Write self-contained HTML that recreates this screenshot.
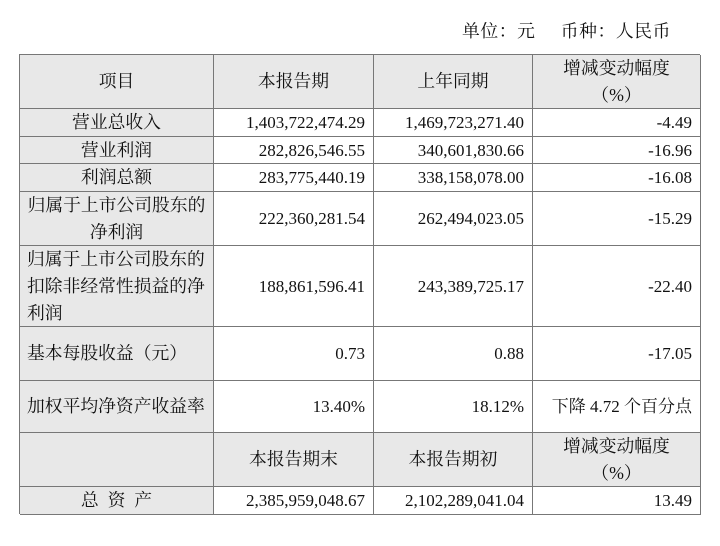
<!DOCTYPE html>
<html><head><meta charset="utf-8"><style>
body{margin:0;width:720px;height:546px;background:#fff;position:relative;overflow:hidden;font-family:"Liberation Serif","Noto Serif CJK SC",serif;font-size:17px;color:#111}
.c{position:absolute;box-sizing:border-box;display:flex;align-items:center;border-right:1.5px solid #777;border-bottom:1.5px solid #777;line-height:27px}
.g{background:#e8e8e8}
.ce{justify-content:center;text-align:center}
.r{justify-content:flex-end;padding-right:8px}
.l{padding-left:7px;font-size:17.8px}
.g.ce{font-size:17.8px}
#unit{position:absolute;top:18px;left:462px;font-size:17.8px;white-space:pre;letter-spacing:0.6px}
#tbl{position:absolute;left:19px;top:54px;width:681px;height:460px;border-left:1.5px solid #777;border-top:1.5px solid #777;box-sizing:border-box}
</style></head><body>
<div id="unit">单位：元     币种：人民币</div>
<div id="tbl"></div>
<div class="c g ce" style="left:20px;top:55px;width:194px;height:54px">项目</div>
<div class="c g ce" style="left:214px;top:55px;width:160px;height:54px">本报告期</div>
<div class="c g ce" style="left:374px;top:55px;width:159px;height:54px">上年同期</div>
<div class="c g ce" style="left:533px;top:55px;width:168px;height:54px">增减变动幅度<br>（%）</div>

<div class="c g ce" style="left:20px;top:109px;width:194px;height:28px">营业总收入</div>
<div class="c r" style="left:214px;top:109px;width:160px;height:28px">1,403,722,474.29</div>
<div class="c r" style="left:374px;top:109px;width:159px;height:28px">1,469,723,271.40</div>
<div class="c r" style="left:533px;top:109px;width:168px;height:28px">-4.49</div>

<div class="c g ce" style="left:20px;top:137px;width:194px;height:27px">营业利润</div>
<div class="c r" style="left:214px;top:137px;width:160px;height:27px">282,826,546.55</div>
<div class="c r" style="left:374px;top:137px;width:159px;height:27px">340,601,830.66</div>
<div class="c r" style="left:533px;top:137px;width:168px;height:27px">-16.96</div>

<div class="c g ce" style="left:20px;top:164px;width:194px;height:28px">利润总额</div>
<div class="c r" style="left:214px;top:164px;width:160px;height:28px">283,775,440.19</div>
<div class="c r" style="left:374px;top:164px;width:159px;height:28px">338,158,078.00</div>
<div class="c r" style="left:533px;top:164px;width:168px;height:28px">-16.08</div>

<div class="c g ce" style="left:20px;top:192px;width:194px;height:54px">归属于上市公司股东的<br>净利润</div>
<div class="c r" style="left:214px;top:192px;width:160px;height:54px">222,360,281.54</div>
<div class="c r" style="left:374px;top:192px;width:159px;height:54px">262,494,023.05</div>
<div class="c r" style="left:533px;top:192px;width:168px;height:54px">-15.29</div>

<div class="c g l" style="left:20px;top:246px;width:194px;height:81px">归属于上市公司股东的<br>扣除非经常性损益的净<br>利润</div>
<div class="c r" style="left:214px;top:246px;width:160px;height:81px">188,861,596.41</div>
<div class="c r" style="left:374px;top:246px;width:159px;height:81px">243,389,725.17</div>
<div class="c r" style="left:533px;top:246px;width:168px;height:81px">-22.40</div>

<div class="c g l" style="left:20px;top:327px;width:194px;height:54px">基本每股收益（元）</div>
<div class="c r" style="left:214px;top:327px;width:160px;height:54px">0.73</div>
<div class="c r" style="left:374px;top:327px;width:159px;height:54px">0.88</div>
<div class="c r" style="left:533px;top:327px;width:168px;height:54px">-17.05</div>

<div class="c g l" style="left:20px;top:381px;width:194px;height:52px">加权平均净资产收益率</div>
<div class="c r" style="left:214px;top:381px;width:160px;height:52px">13.40%</div>
<div class="c r" style="left:374px;top:381px;width:159px;height:52px">18.12%</div>
<div class="c r" style="left:533px;top:381px;width:168px;height:52px">下降 4.72 个百分点</div>

<div class="c g" style="left:20px;top:433px;width:194px;height:54px"></div>
<div class="c g ce" style="left:214px;top:433px;width:160px;height:54px">本报告期末</div>
<div class="c g ce" style="left:374px;top:433px;width:159px;height:54px">本报告期初</div>
<div class="c g ce" style="left:533px;top:433px;width:168px;height:54px">增减变动幅度<br>（%）</div>

<div class="c g ce" style="left:20px;top:487px;width:194px;height:28px;white-space:pre">总  资  产</div>
<div class="c r" style="left:214px;top:487px;width:160px;height:28px">2,385,959,048.67</div>
<div class="c r" style="left:374px;top:487px;width:159px;height:28px">2,102,289,041.04</div>
<div class="c r" style="left:533px;top:487px;width:168px;height:28px">13.49</div>
</body></html>
